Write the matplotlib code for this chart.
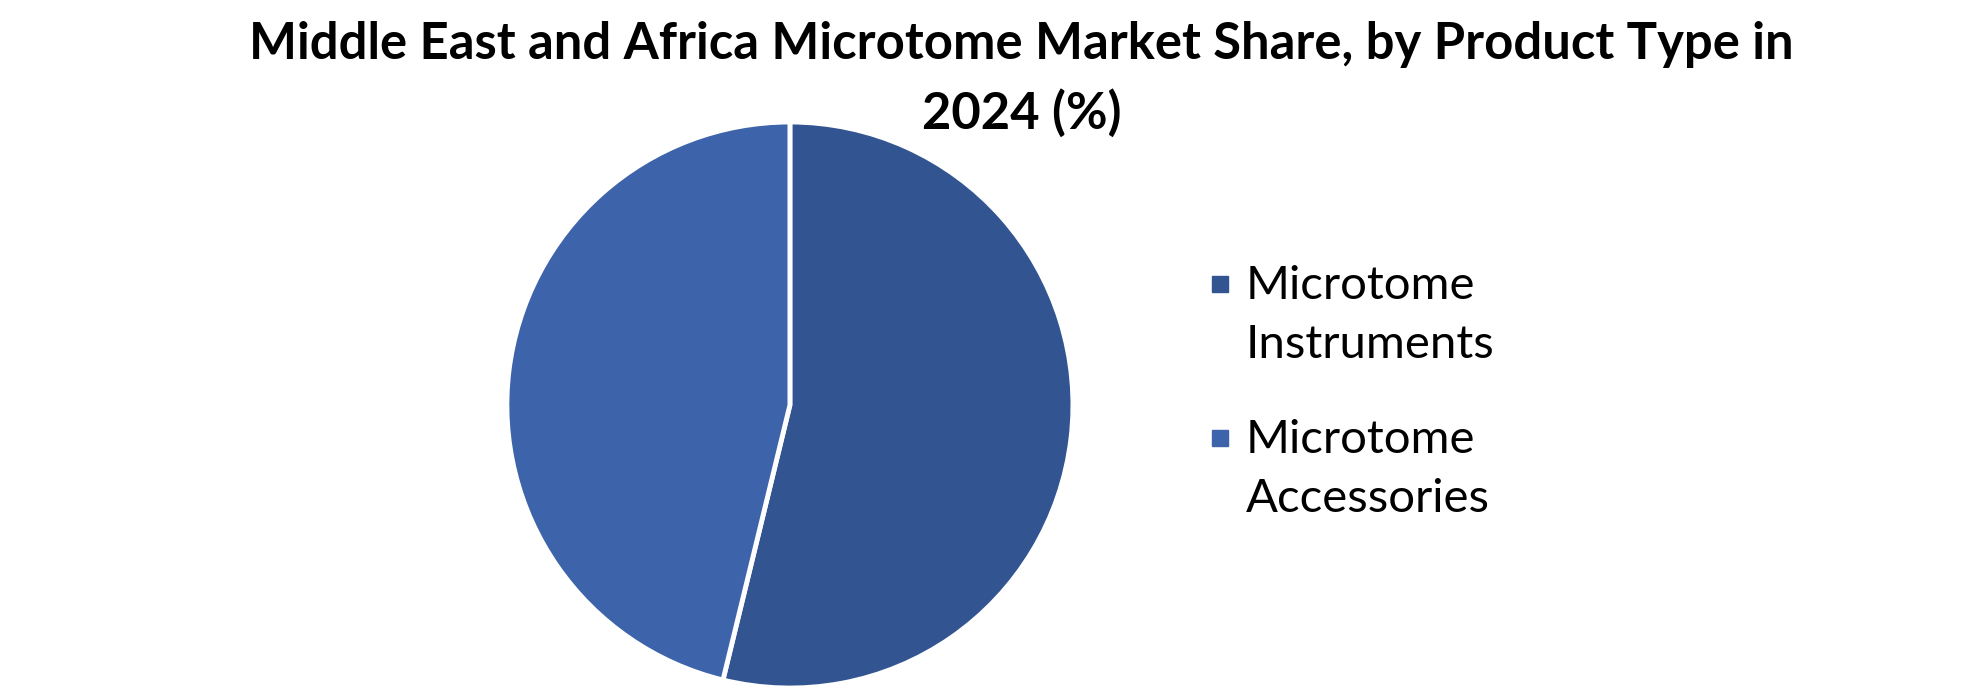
import matplotlib.pyplot as plt
from matplotlib.lines import Line2D

plt.rcParams['font.family'] = ['Lato', 'DejaVu Sans']

title = "Middle East and Africa Microtome Market Share, by Product Type in\n2024 (%)"
labels = ["Microtome\nInstruments", "Microtome\nAccessories"]
shares = [53.8, 46.2]
colors = ['#325592', '#3d64aa']

fig = plt.figure(figsize=(19.8, 6.94), dpi=100)
ax = fig.add_axes([0.256, 0.0086, 0.2859, 0.8156])
wedges, _ = ax.pie(shares, colors=colors, startangle=90, counterclock=False,
                   wedgeprops=dict(edgecolor='white', linewidth=3.5))
for w in wedges:
    w.set_clip_on(False)
ax.set_xlim(-1, 1)
ax.set_ylim(-1, 1)
ax.set_aspect('equal')
ax.axis('off')

fig.text(0.516, 0.886, title, ha='center', va='center', fontsize=36.5,
         fontweight='bold', linespacing=1.53)

ys = [0.5908, 0.3689]
for lab, c, y in zip(labels, colors, ys):
    fig.add_artist(Line2D([0.616], [y], marker='s', markersize=11, color=c,
                          linestyle='none', transform=fig.transFigure))
    fig.text(0.629, y + 0.027, lab, ha='left', va='top', fontsize=34,
             linespacing=1.5, transform=fig.transFigure)

fig.savefig('out.png', dpi=100)
